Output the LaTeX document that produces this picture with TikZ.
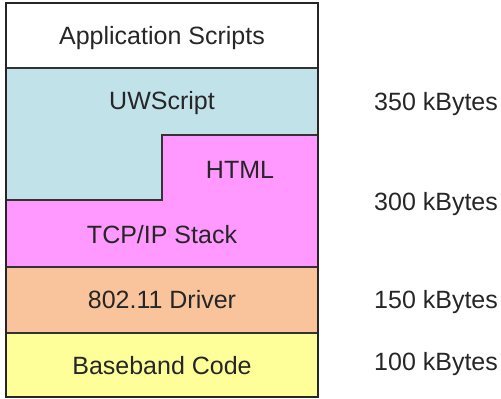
\documentclass[tikz,border=0pt]{standalone}
\usepackage{fontspec}
\setmainfont{Liberation Sans}
\definecolor{cblue}{HTML}{C0E2E8}
\definecolor{cpink}{HTML}{FF99FF}
\definecolor{cpeach}{HTML}{F9C49C}
\definecolor{cyellow}{HTML}{FFFF99}
\begin{document}
\begin{tikzpicture}[x=1pt,y=-1pt,
  lbl/.style={font=\fontsize{25}{29}\selectfont, text=black!85, inner sep=0pt},
  sep/.style={draw=black!80, line width=1.2pt}]
\useasboundingbox (0,0) rectangle (501,399);
% fills
\fill[white] (6,3) rectangle (318,68);
\fill[cblue] (6,68) -- (318,68) -- (318,135) -- (162,135) -- (162,200) -- (6,200) -- cycle;
\fill[cpink] (162,135) -- (318,135) -- (318,267) -- (6,267) -- (6,200) -- (162,200) -- cycle;
\fill[cpeach] (6,267) rectangle (318,333);
\fill[cyellow] (6,333) rectangle (318,397);
% separators
\draw[sep] (6,68) -- (318,68);
\draw[sep] (318,135) -- (162,135) -- (162,200) -- (6,200);
\draw[sep] (6,267) -- (318,267);
\draw[sep] (6,333) -- (318,333);
% outer frame
\draw[black!85, line width=2.2pt] (6,3) rectangle (318,397);
% labels
\node[lbl] (app) at (162,38) {Application Scripts};
\node[lbl] (uw) at (162,103) {UWScript};
\node[lbl] (html) at (240,170) {HTML};
\node[lbl] (tcp) at (162,235) {TCP/IP Stack};
\node[lbl] (drv) at (162,300) {802.11 Driver};
\node[lbl] (bb) at (162,366) {Baseband Code};
\node[lbl, anchor=west] (s350) at (374,104) {350 kBytes};
\node[lbl, anchor=west] (s300) at (374,204) {300 kBytes};
\node[lbl, anchor=west] (s150) at (374,302) {150 kBytes};
\node[lbl, anchor=west] (s100) at (374,364) {100 kBytes};
\end{tikzpicture}
\end{document}
